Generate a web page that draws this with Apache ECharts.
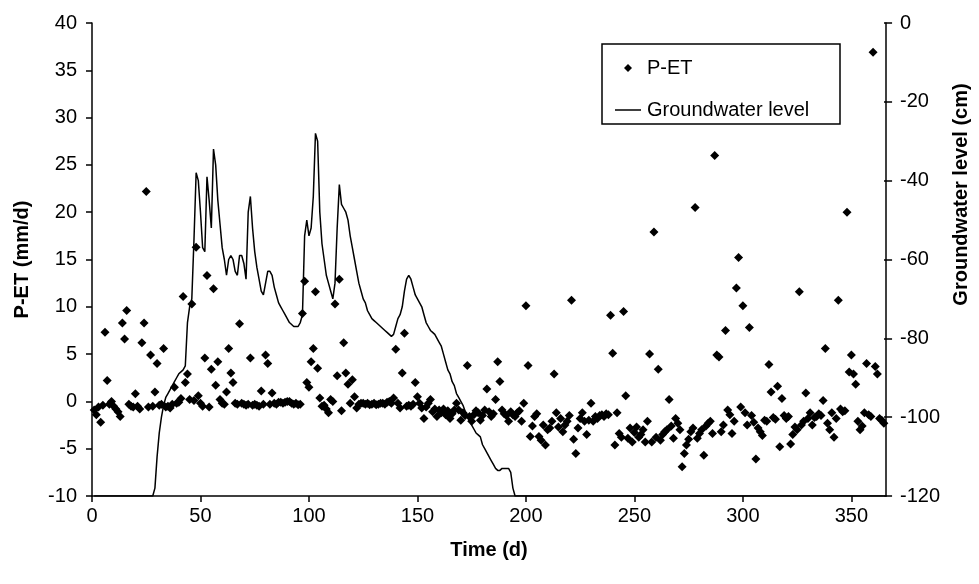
<!DOCTYPE html>
<html><head><meta charset="utf-8">
<script src="https://cdn.jsdelivr.net/npm/echarts@6/dist/echarts.min.js"></script>
<style>html,body{margin:0;padding:0;background:#fff}#c{width:979px;height:584px}</style>
</head><body><div id="c"></div>
<script>
// P-ET (mm/d), one value per day, days 1..365
const pet = [
-0.9,-1.4,-0.6,-2.2,-0.4,7.3,2.2,-0.3,0,-0.5,
-0.8,-1.1,-1.6,8.3,6.6,9.6,-0.3,-0.5,-0.6,0.8,
-0.5,-0.8,6.2,8.3,22.2,-0.6,4.9,-0.5,1.0,4.0,
-0.4,-0.3,5.6,-0.6,-0.5,-0.7,-0.3,1.5,-0.2,-0.1,
0.3,11.1,2.0,2.9,0.2,10.3,0.1,16.3,0.6,-0.2,
-0.5,4.6,13.3,-0.6,3.4,11.9,1.7,4.2,0.2,-0.2,
-0.3,1.0,5.6,3.0,2.0,-0.2,-0.3,8.2,-0.2,-0.3,
-0.4,-0.3,4.6,-0.4,-0.3,-0.4,-0.5,1.1,-0.3,4.9,
4.0,-0.3,0.9,-0.2,-0.3,-0.1,-0.1,-0.2,-0.1,0,
0,-0.2,-0.3,-0.2,-0.35,-0.3,9.3,12.7,2.0,1.5,
4.2,5.6,11.6,3.5,0.35,-0.5,-0.4,-0.8,-1.2,0.2,
0,10.3,2.7,12.9,-1.0,6.2,3.0,1.8,-0.2,2.3,
0.5,-0.7,-0.3,-0.2,-0.2,-0.3,-0.2,-0.35,-0.3,-0.2,
-0.35,-0.3,-0.2,-0.2,-0.3,-0.1,0,-0.2,0.35,5.5,
-0.2,-0.7,3.0,7.2,-0.5,-0.4,-0.5,-0.3,2.0,0.5,
-0.2,-0.7,-1.8,-0.6,-0.2,0.2,-1.1,-0.8,-1.6,-0.9,
-1.2,-0.8,-1.4,-1.0,-1.8,-1.3,-0.9,-0.2,-0.9,-2.0,
-1.2,-1.5,3.8,-1.6,-2.1,-1.4,-1.0,-1.2,-2.0,-1.5,
-0.9,1.3,-1.1,-1.6,-1.3,0.2,4.2,2.1,-0.9,-1.3,
-1.5,-2.1,-1.1,-1.4,-1.6,-1.2,-1.0,-2.1,-0.2,10.1,
3.8,-3.7,-2.6,-1.6,-1.3,-3.7,-4.1,-2.5,-4.6,-3.0,
-2.8,-2.1,2.9,-1.2,-2.7,-1.8,-3.2,-2.5,-2.1,-1.5,
10.7,-4.0,-5.5,-2.8,-1.8,-1.2,-2.1,-3.5,-2.0,-0.2,
-2.1,-1.6,-1.8,-1.5,-1.4,-1.6,-1.3,-1.4,9.1,5.1,
-4.6,-1.2,-3.4,-3.8,9.5,0.6,-3.9,-2.8,-4.3,-3.3,
-2.7,-3.8,-3.5,-3.0,-4.3,-2.1,5.0,-4.3,17.9,-3.8,
3.4,-4.1,-3.5,-3.2,-3.0,0.2,-2.6,-3.9,-1.8,-2.3,
-3.0,-6.9,-5.5,-4.6,-4.0,-3.2,-2.8,20.5,-3.9,-3.4,
-3.0,-5.7,-2.6,-2.3,-2.1,-3.4,26.0,4.9,4.7,-3.2,
-2.5,7.5,-0.9,-1.4,-3.4,-2.1,12.0,15.2,-0.6,10.1,
-1.2,-2.5,7.8,-1.5,-2.2,-6.1,-2.8,-3.2,-3.6,-2.0,
-2.1,3.9,1.0,-1.7,-1.9,1.6,-4.8,0.3,-1.5,-1.8,
-1.6,-4.5,-3.5,-2.7,-3.0,11.6,-2.5,-2.1,0.9,-1.8,
-1.2,-2.5,-1.7,-1.6,-1.3,-1.5,0.1,5.6,-2.3,-3.0,
-1.2,-3.8,-1.8,10.7,-0.8,-1.1,-1.0,20.0,3.1,4.9,
2.9,1.8,-2.1,-3.0,-2.6,-1.2,4.0,-1.4,-1.6,36.9,
3.7,2.9,-1.8,-2.0,-2.3
];

// Groundwater level (cm), one value per day, days 1..365
const gw = [
-120,-120,-120,-120,-120,-120,-120,-120,-120,-120,
-120,-120,-120,-120,-120,-120,-120,-120,-120,-120,
-120,-120,-120,-120,-120,-120,-120,-120,-118,-110,
-104,-100,-97,-95,-94,-93,-92,-91,-90,-89,
-88.5,-88,-87,-76,-72,-70,-55,-38,-40,-48,
-57,-58,-39,-45,-52,-32,-36,-45,-51,-57,
-60,-64,-60,-59,-60,-63,-64,-59,-59,-61,
-65,-48,-44,-52,-58,-62,-65,-68,-69,-66,
-63,-63,-64,-67,-69,-71,-72,-73,-74,-75,
-76,-76.5,-77,-77,-77,-76,-74,-54,-50,-54,
-52,-44,-28,-30,-48,-56,-60,-64,-66,-68,
-70,-66,-52,-41,-46,-47,-48,-50,-54,-57,
-60,-63,-66,-68,-70,-71,-73,-74,-75,-75.5,
-76,-76.5,-77,-77.5,-78,-78.5,-79,-79.5,-79,-77,
-75,-74,-72,-68,-65,-64,-65,-67,-69,-70,
-71,-72,-74,-76,-77,-78,-78.5,-79,-80,-81,
-82,-84,-86,-88,-89,-91,-92,-94,-95,-96,
-97,-98.5,-100,-101,-102,-103,-104,-104.5,-105,-107,
-108,-109,-110,-111,-112,-113,-113.5,-113.5,-113,-113,
-113,-113,-114,-118,-120,-120,-120,-120,-120,-120,
-120,-120,-120,-120,-120,-120,-120,-120,-120,-120,
-120,-120,-120,-120,-120,-120,-120,-120,-120,-120,
-120,-120,-120,-120,-120,-120,-120,-120,-120,-120,
-120,-120,-120,-120,-120,-120,-120,-120,-120,-120,
-120,-120,-120,-120,-120,-120,-120,-120,-120,-120,
-120,-120,-120,-120,-120,-120,-120,-120,-120,-120,
-120,-120,-120,-120,-120,-120,-120,-120,-120,-120,
-120,-120,-120,-120,-120,-120,-120,-120,-120,-120,
-120,-120,-120,-120,-120,-120,-120,-120,-120,-120,
-120,-120,-120,-120,-120,-120,-120,-120,-120,-120,
-120,-120,-120,-120,-120,-120,-120,-120,-120,-120,
-120,-120,-120,-120,-120,-120,-120,-120,-120,-120,
-120,-120,-120,-120,-120,-120,-120,-120,-120,-120,
-120,-120,-120,-120,-120,-120,-120,-120,-120,-120,
-120,-120,-120,-120,-120,-120,-120,-120,-120,-120,
-120,-120,-120,-120,-120,-120,-120,-120,-120,-120,
-120,-120,-120,-120,-120
];

const days = pet.map((_, i) => i + 1);
const seriesNames = ['P-ET', 'Groundwater level'];
const axisTitles = { x: 'Time (d)', left: 'P-ET (mm/d)', right: 'Groundwater level (cm)' };

const F = '"Liberation Sans", Arial, Helvetica, sans-serif';
const black = '#000';
const labelStyle = { fontFamily: F, fontSize: 20, color: black };
const titleStyle = { fontFamily: F, fontSize: 20, fontWeight: 'bold', color: black };

const chart = echarts.init(document.getElementById('c'), null, { renderer: 'canvas' });
chart.setOption({
  animation: false,
  backgroundColor: '#fff',
  grid: [
    { left: 92, right: 89, top: 23, bottom: 88 },
    // thin helper grid sitting on the right axis line: draws the inner half of its crossing ticks
    { left: 890, width: 1, top: 23, bottom: 88 }
  ],
  xAxis: [
    {
      type: 'value', gridIndex: 0, min: 0, max: 366, interval: 50,
      name: axisTitles.x, nameLocation: 'middle', nameGap: 44, nameTextStyle: titleStyle,
      axisLine: { onZero: false, lineStyle: { color: black, width: 1.5 } },
      axisTick: { length: 6, lineStyle: { color: black, width: 1.5 } },
      axisLabel: Object.assign({ margin: 10, showMaxLabel: false,
        formatter: v => (v % 50 === 0 ? String(v) : '') }, labelStyle),
      splitLine: { show: false }
    },
    {
      type: 'value', gridIndex: 1, min: 0, max: 1, show: false
    }
  ],
  yAxis: [
    {
      type: 'value', gridIndex: 0, min: -10, max: 40, interval: 5, position: 'left',
      name: axisTitles.left, nameLocation: 'middle', nameRotate: 90, nameGap: 60, nameTextStyle: titleStyle,
      axisLine: { show: true, onZero: false, lineStyle: { color: black, width: 1.5 } },
      axisTick: { show: true, length: 6, lineStyle: { color: black, width: 1.5 } },
      axisLabel: Object.assign({ margin: 15 }, labelStyle),
      splitLine: { show: false }
    },
    {
      type: 'value', gridIndex: 0, min: -120, max: 0, interval: 20, position: 'right',
      name: axisTitles.right, nameLocation: 'middle', nameRotate: 90, nameGap: 62,
      nameTextStyle: Object.assign({ padding: [0, 0, 0, 130] }, titleStyle),
      axisLine: { show: true, onZero: false, lineStyle: { color: black, width: 1.5 } },
      axisTick: { show: true, length: 6, lineStyle: { color: black, width: 1.5 } },
      axisLabel: Object.assign({ margin: 14 }, labelStyle),
      splitLine: { show: false }
    },
    {
      type: 'value', gridIndex: 1, min: -120, max: 0, interval: 20, position: 'left',
      axisLine: { show: false },
      axisTick: { show: true, inside: false, length: 6, lineStyle: { color: black, width: 1.5 } },
      axisLabel: { show: false },
      splitLine: { show: false }
    }
  ],
  legend: [
    {
      data: [seriesNames[0]], left: 624, top: 58, padding: 0,
      itemWidth: 8, itemHeight: 8, icon: 'diamond',
      textStyle: Object.assign({ padding: [0, 0, 0, 10] }, labelStyle)
    },
    {
      data: [seriesNames[1]], left: 615, top: 100, padding: 0,
      itemWidth: 26, itemHeight: 1.5, icon: 'rect',
      textStyle: Object.assign({ padding: [0, 0, 0, 1] }, labelStyle)
    }
  ],
  graphic: [
    { type: 'rect', z: 100, silent: true,
      shape: { x: 602, y: 44, width: 238, height: 80 },
      style: { fill: null, stroke: black, lineWidth: 1.5 } }
  ],
  series: [
    {
      name: seriesNames[0], type: 'scatter', xAxisIndex: 0, yAxisIndex: 0,
      data: days.map((d, i) => [d, pet[i]]),
      symbol: 'diamond', symbolSize: 9,
      itemStyle: { color: black, opacity: 1 }, z: 3
    },
    {
      name: seriesNames[1], type: 'line', xAxisIndex: 0, yAxisIndex: 1,
      data: days.map((d, i) => [d, gw[i]]),
      symbol: 'none', showSymbol: false,
      lineStyle: { color: black, width: 1.5 },
      itemStyle: { color: black }, z: 2
    }
  ]
});
</script>
</body></html>
